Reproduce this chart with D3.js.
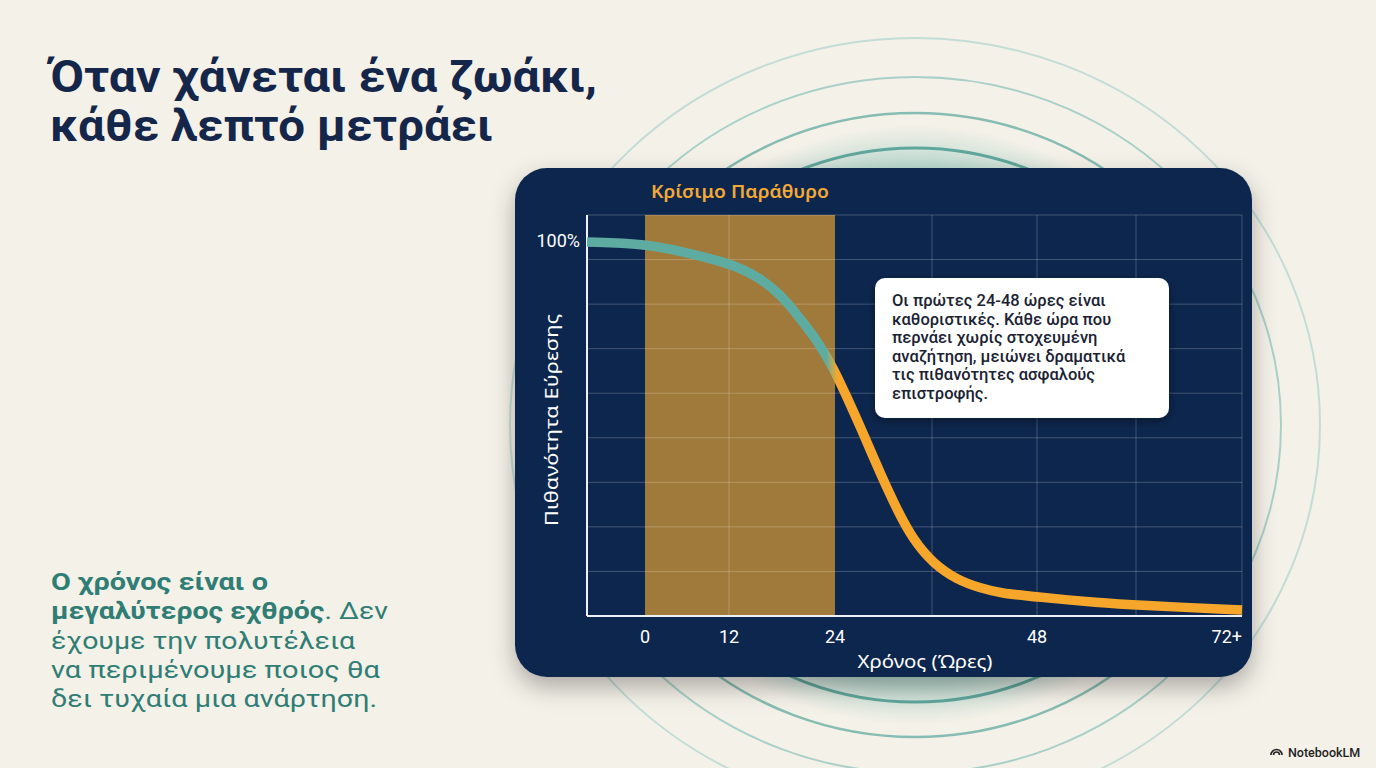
<!DOCTYPE html>
<html>
<head>
<meta charset="utf-8">
<script src="https://cdn.jsdelivr.net/npm/d3@7"></script>
<style>
  body { margin: 0; background: #f4f1e8; }
  svg { display: block; }
</style>
</head>
<body>
<div id="chart"></div>
<script>
// Data
const hours = [-8, 0, 5, 12, 15.2, 17.8, 20, 22, 23.8, 25.5, 27.5, 29.6, 31.7, 33.7, 36.1, 38.9, 41.5, 43.8, 48, 55.6, 60, 72];
const probability = [100, 99.5, 97.6, 94.4, 90.9, 86.1, 79.7, 73.6, 66.4, 58.4, 48.8, 38.1, 28.3, 20.3, 14.1, 9.6, 7.5, 6.1, 5.1, 3.5, 2.9, 1.6];
const criticalWindow = [0, 24];
const xTickHours = [0, 12, 24, 48, 72];
const xTickLabels = ["0", "12", "24", "48", "72+"];
const gridHours = [12, 36, 48, 60, 72];
const gridRows = 9;

const titleLines = ["Όταν χάνεται ένα ζωάκι,", "κάθε λεπτό μετράει"];
const noteLines = [
  "Οι πρώτες 24-48 ώρες είναι",
  "καθοριστικές. Κάθε ώρα που",
  "περνάει χωρίς στοχευμένη",
  "αναζήτηση, μειώνει δραματικά",
  "τις πιθανότητες ασφαλούς",
  "επιστροφής."
];
const sideLines = [
  [["Ο χρόνος είναι ο", true]],
  [["μεγαλύτερος εχθρός", true], [". Δεν", false]],
  [["έχουμε την πολυτέλεια", false]],
  [["να περιμένουμε ποιος θα", false]],
  [["δει τυχαία μια ανάρτηση.", false]]
];
const sideWidths = [217, 337, 304, 329, 326];

const W = 1376, H = 768;
const navy = "#10264d", teal = "#5eaca1", orange = "#f5a62b";
const labelFont = "Roboto, 'Noto Sans', sans-serif";
const wideFont = "'Noto Sans', Roboto, sans-serif";

const svg = d3.select("#chart").append("svg")
    .attr("width", W)
    .attr("height", H);

const defs = svg.append("defs");

// Glow behind the panel
const glow = defs.append("radialGradient").attr("id", "glow");
glow.append("stop").attr("offset", "0%").attr("stop-color", "#7fc0b6").attr("stop-opacity", 0.5);
glow.append("stop").attr("offset", "86%").attr("stop-color", "#7fc0b6").attr("stop-opacity", 0.5);
glow.append("stop").attr("offset", "100%").attr("stop-color", "#8cc6bc").attr("stop-opacity", 0);

const shadow = defs.append("filter").attr("id", "shadow")
    .attr("x", "-10%").attr("y", "-10%").attr("width", "120%").attr("height", "130%");
shadow.append("feDropShadow").attr("dx", 0).attr("dy", 10).attr("stdDeviation", 12)
    .attr("flood-color", "#000").attr("flood-opacity", 0.3);

const boxShadow = defs.append("filter").attr("id", "boxShadow")
    .attr("x", "-10%").attr("y", "-10%").attr("width", "120%").attr("height", "130%");
boxShadow.append("feDropShadow").attr("dx", 0).attr("dy", 3).attr("stdDeviation", 4)
    .attr("flood-color", "#000").attr("flood-opacity", 0.35);

// Background rings
const cx = 915, cy = 425;
svg.append("ellipse")
    .attr("cx", cx).attr("cy", cy).attr("rx", 318).attr("ry", 300)
    .attr("fill", "url(#glow)");

const rings = [
  {ry: 277, color: "#5fa69c", w: 3},
  {ry: 312, color: "#86bcb3", w: 2.5},
  {ry: 348, color: "#a9d0c8", w: 2},
  {ry: 387, color: "#c3ddd6", w: 2}
];
svg.selectAll("ellipse.ring")
    .data(rings)
    .enter()
    .append("ellipse")
    .attr("class", "ring")
    .attr("cx", cx).attr("cy", cy)
    .attr("rx", d => d.ry + 18).attr("ry", d => d.ry)
    .attr("fill", "none")
    .attr("stroke", d => d.color)
    .attr("stroke-width", d => d.w);

// Panel
svg.append("rect")
    .attr("x", 515).attr("y", 168)
    .attr("width", 737).attr("height", 509)
    .attr("rx", 32)
    .attr("fill", navy)
    .attr("filter", "url(#shadow)");

// Scales
const x = d3.scaleLinear()
    .domain([-8, 0, 12, 24, 36, 48, 60, 72])
    .range([587, 645, 729, 835, 932, 1037, 1136, 1242]);
const y = d3.scaleLinear()
    .domain([0, 100])
    .range([616, 242]);
const gridY = d3.scaleLinear()
    .domain([0, gridRows])
    .range([616, 215]);

const plotTop = gridY(gridRows), plotBottom = gridY(0);
const plotLeft = x(-8), plotRight = x(72);

// Critical window band
svg.append("rect")
    .attr("x", x(criticalWindow[0]))
    .attr("y", plotTop)
    .attr("width", x(criticalWindow[1]) - x(criticalWindow[0]))
    .attr("height", plotBottom - plotTop)
    .attr("fill", "#a07a3a");

// Grid
svg.append("g")
    .selectAll("line")
    .data(d3.range(1, gridRows + 1))
    .enter()
    .append("line")
    .attr("x1", plotLeft).attr("x2", plotRight)
    .attr("y1", d => gridY(d)).attr("y2", d => gridY(d))
    .attr("stroke", "#ffffff").attr("stroke-opacity", 0.22).attr("stroke-width", 1);

svg.append("g")
    .selectAll("line")
    .data(gridHours)
    .enter()
    .append("line")
    .attr("x1", d => x(d)).attr("x2", d => x(d))
    .attr("y1", plotTop).attr("y2", plotBottom)
    .attr("stroke", "#ffffff").attr("stroke-opacity", 0.22).attr("stroke-width", 1);

// Axis lines
svg.append("line")
    .attr("x1", plotLeft).attr("x2", plotLeft)
    .attr("y1", plotTop).attr("y2", plotBottom)
    .attr("stroke", "#eef1f6").attr("stroke-width", 2);
svg.append("line")
    .attr("x1", plotLeft).attr("x2", plotRight)
    .attr("y1", plotBottom).attr("y2", plotBottom)
    .attr("stroke", "#eef1f6").attr("stroke-width", 2);

// Curve, teal until the end of the window then orange
const grad = defs.append("linearGradient")
    .attr("id", "curveGrad")
    .attr("gradientUnits", "userSpaceOnUse")
    .attr("x1", plotLeft).attr("x2", plotRight)
    .attr("y1", 0).attr("y2", 0);
const split = (x(23.6) - plotLeft) / (plotRight - plotLeft);
grad.append("stop").attr("offset", split - 0.008).attr("stop-color", teal);
grad.append("stop").attr("offset", split + 0.008).attr("stop-color", orange);

const points = hours.map((h, i) => ({h: h, p: probability[i]}));
svg.append("path")
    .datum(points)
    .attr("fill", "none")
    .attr("stroke", "url(#curveGrad)")
    .attr("stroke-width", 9.5)
    .attr("d", d3.line()
        .x(d => x(d.h))
        .y(d => y(d.p))
        .curve(d3.curveBasis));

// Axis labels
svg.append("text")
    .attr("x", 580).attr("y", y(100) + 5)
    .attr("text-anchor", "end")
    .attr("fill", "#ffffff")
    .attr("font-family", labelFont)
    .attr("font-size", 18)
    .text("100%");

svg.append("g")
    .selectAll("text")
    .data(xTickHours)
    .enter()
    .append("text")
    .attr("x", d => x(d))
    .attr("y", 643)
    .attr("text-anchor", (d, i) => i === xTickHours.length - 1 ? "end" : "middle")
    .attr("fill", "#ffffff")
    .attr("font-family", labelFont)
    .attr("font-size", 18)
    .text((d, i) => xTickLabels[i]);

svg.append("text")
    .attr("x", 925).attr("y", 668)
    .attr("text-anchor", "middle")
    .attr("fill", "#ffffff")
    .attr("font-family", wideFont)
    .attr("font-size", 18)
    .attr("textLength", 135)
    .attr("lengthAdjust", "spacingAndGlyphs")
    .text("Χρόνος (Ώρες)");

svg.append("text")
    .attr("transform", "translate(558,420) rotate(-90)")
    .attr("text-anchor", "middle")
    .attr("fill", "#ffffff")
    .attr("font-family", wideFont)
    .attr("font-size", 18.5)
    .attr("textLength", 212)
    .attr("lengthAdjust", "spacingAndGlyphs")
    .text("Πιθανότητα Εύρεσης");

svg.append("text")
    .attr("x", (x(criticalWindow[0]) + x(criticalWindow[1])) / 2).attr("y", 198)
    .attr("text-anchor", "middle")
    .attr("fill", "#f2a935")
    .attr("font-family", wideFont)
    .attr("font-size", 18.5)
    .attr("font-weight", 600)
    .attr("textLength", 178)
    .attr("lengthAdjust", "spacingAndGlyphs")
    .text("Κρίσιμο Παράθυρο");

// Annotation box
svg.append("rect")
    .attr("x", 875).attr("y", 278)
    .attr("width", 294).attr("height", 140)
    .attr("rx", 10)
    .attr("fill", "#ffffff")
    .attr("filter", "url(#boxShadow)");

svg.append("g")
    .selectAll("text")
    .data(noteLines)
    .enter()
    .append("text")
    .attr("x", 892)
    .attr("y", (d, i) => 306 + i * 18.6)
    .attr("fill", "#1a2233")
    .attr("font-family", labelFont)
    .attr("font-size", 16.5)
    .attr("font-weight", 500)
    .text(d => d);

// Title
svg.append("g")
    .selectAll("text")
    .data(titleLines)
    .enter()
    .append("text")
    .attr("x", 50)
    .attr("y", (d, i) => 92 + i * 49)
    .attr("fill", "#14264a")
    .attr("font-family", labelFont)
    .attr("font-size", 44)
    .attr("font-weight", 700)
    .attr("textLength", (d, i) => i === 0 ? 547 : 443)
    .attr("lengthAdjust", "spacingAndGlyphs")
    .text(d => d);

// Side text
const side = svg.append("g")
    .attr("font-family", labelFont)
    .attr("font-size", 24.5)
    .attr("fill", "#2f7d74");
sideLines.forEach((parts, i) => {
  const t = side.append("text")
      .attr("x", 51)
      .attr("y", 590 + i * 29.3)
      .attr("textLength", sideWidths[i])
      .attr("lengthAdjust", "spacingAndGlyphs");
  parts.forEach(p => {
    t.append("tspan")
        .attr("font-weight", p[1] ? 700 : 400)
        .text(p[0]);
  });
});

// NotebookLM mark
const mark = svg.append("g").attr("transform", "translate(1270,746)");
[5.5, 3].forEach(r => {
  mark.append("path")
      .attr("d", d3.arc()({innerRadius: r - 0.8, outerRadius: r + 0.8, startAngle: -Math.PI / 2, endAngle: Math.PI / 2}))
      .attr("transform", "translate(6.5,9)")
      .attr("fill", "#222");
});
svg.append("text")
    .attr("x", 1288).attr("y", 757)
    .attr("fill", "#222")
    .attr("font-family", labelFont)
    .attr("font-size", 12.5)
    .attr("font-weight", 500)
    .text("NotebookLM");
</script>
</body>
</html>
